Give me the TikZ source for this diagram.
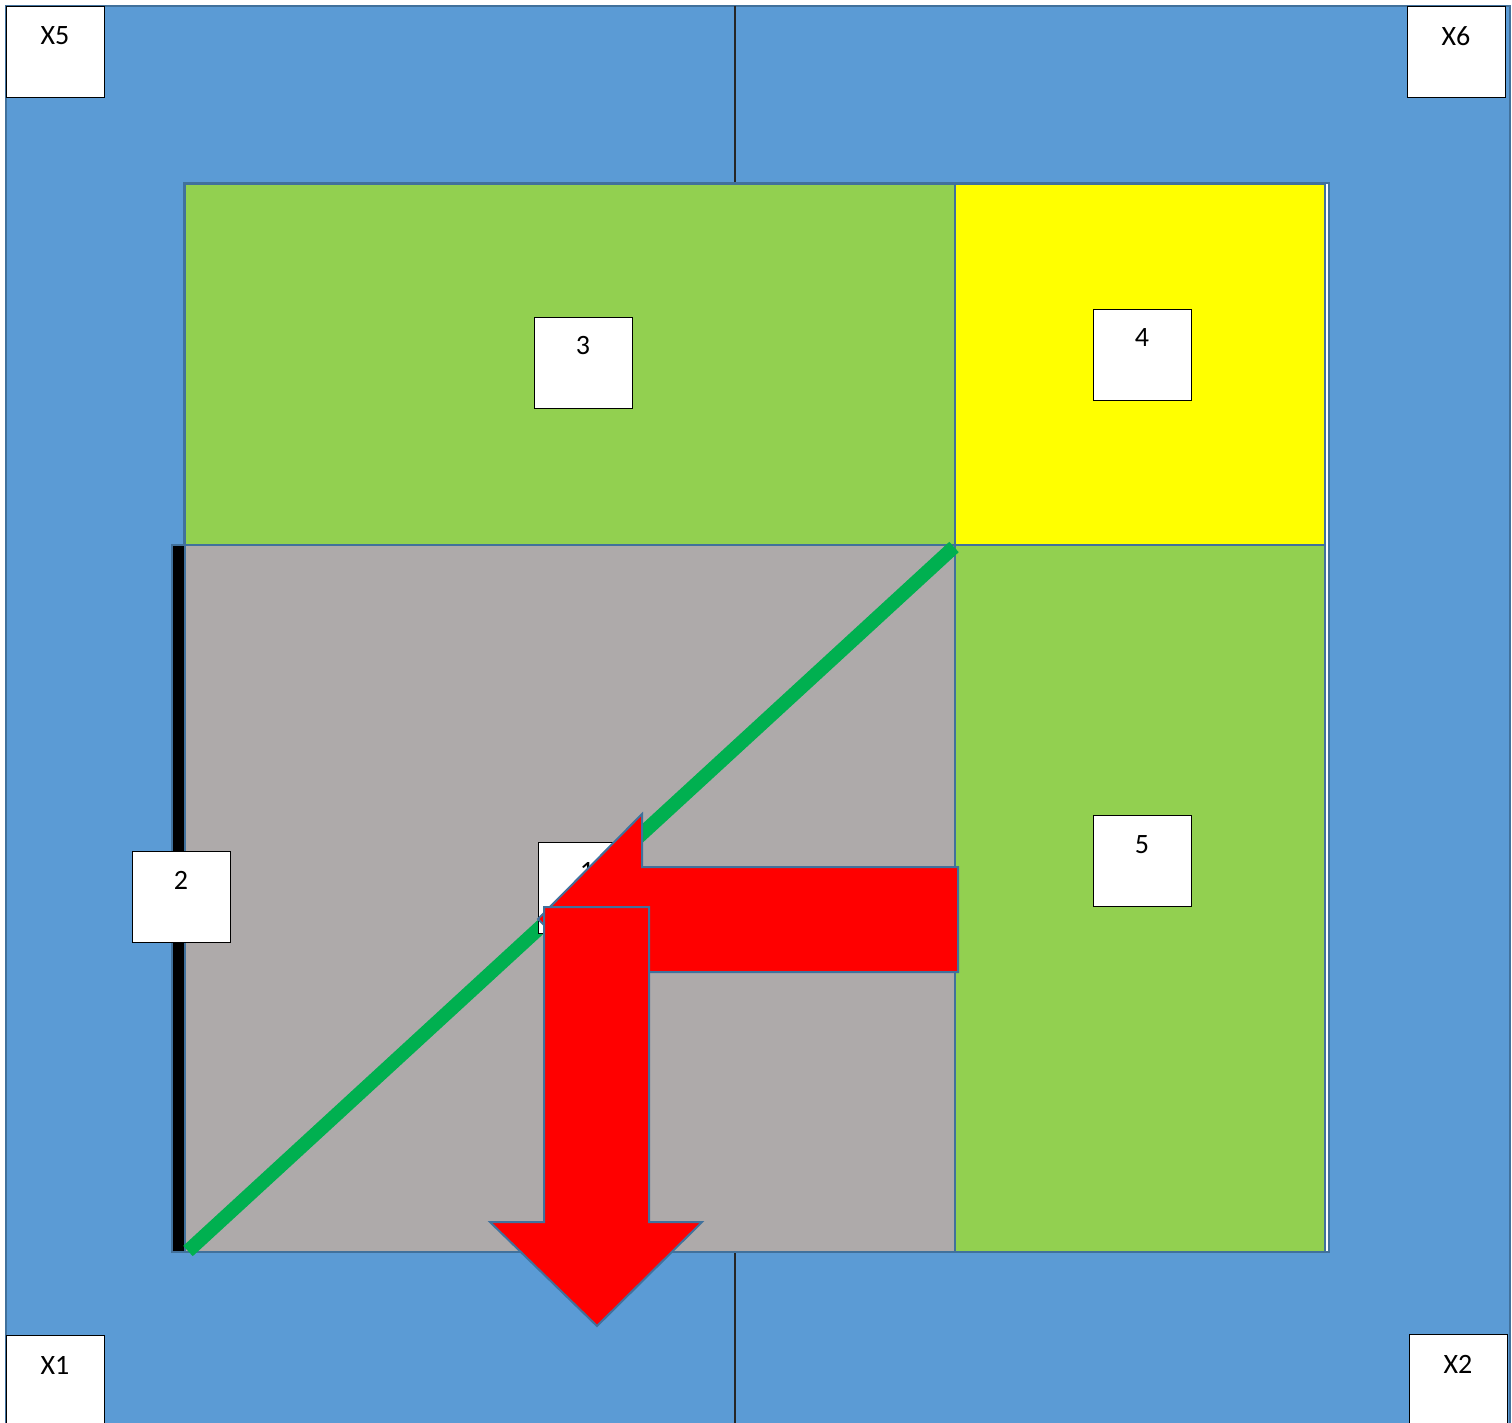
\documentclass[tikz,border=0pt]{standalone}
\usepackage{fontspec}
\setmainfont{Carlito}
\definecolor{bgblue}{HTML}{5B9BD5}
\definecolor{edgeblue}{HTML}{41719C}
\definecolor{lgreen}{HTML}{92D050}
\definecolor{dgreen}{HTML}{00B050}
\definecolor{greyfill}{HTML}{AEAAAA}
\definecolor{yel}{HTML}{FFFF00}
\definecolor{redfill}{HTML}{FF0000}
\begin{document}
\begin{tikzpicture}[x=1pt,y=-1pt,
  region/.style={draw=edgeblue,line width=2pt},
  wbox/.style={draw=black,line width=1pt,fill=white,minimum width=98pt,minimum height=91pt,inner sep=0pt},
  lbl/.style={font=\fontsize{28}{32}\selectfont,inner sep=0pt},
  redarrow/.style={draw=edgeblue,line width=2pt,fill=redfill,line join=miter},
  divider/.style={draw=black!85,line width=1.2pt}]
\useasboundingbox[fill=white] (0,0) rectangle (1512,1423);
% blue background
\fill[bgblue,draw=edgeblue,line width=2pt] (6,6) rectangle (1510,1424);
% dividers
\coordinate (dtop) at (735,6);
\coordinate (dtopend) at (735,183);
\coordinate (dbot) at (735,1253);
\coordinate (dbotend) at (735,1423);
\draw[divider] (dtop) -- (dtopend);
\draw[divider] (dbot) -- (dbotend);
% frame
\draw[region,fill=white] (184,183) rectangle (1329,1252);
% regions
\draw[region,fill=lgreen] (185,184) rectangle (955,545);
\draw[region,fill=yel] (955,184) rectangle (1325,545);
\draw[region,fill=greyfill] (185,545) rectangle (955,1252);
\draw[region,fill=lgreen] (955,545) rectangle (1325,1252);
% black bar
\draw[draw=edgeblue,line width=2pt,fill=black] (172,545) rectangle (185,1252);
% boxes 2 and 1
\node[wbox] (b2) at (181,897) {};
\node[lbl] at ([yshift=-29pt]b2.north) {2};
% green diagonal
\coordinate (ga) at (188,1251);
\coordinate (gb) at (954,547);
\draw[dgreen,line width=14pt] (ga) -- (gb);
\node[wbox] (b1) at (587,888) {};
\node[lbl] at ([yshift=-29pt]b1.north) {1};
% left arrow
\draw[redarrow] (958,867) -- (642,867) -- (642,814) -- (538,919) -- (642,1024) -- (642,972) -- (958,972) -- cycle;
% down arrow
\draw[redarrow] (544,907) -- (649,907) -- (649,1222) -- (702,1222) -- (597,1326) -- (490,1222) -- (544,1222) -- cycle;
% other boxes
\node[wbox] (x5) at (55,52) {};
\node[lbl] at ([yshift=-30pt]x5.north) {X5};
\node[wbox] (x6) at (1456,52) {};
\node[lbl] at ([yshift=-30pt]x6.north) {X6};
\node[wbox] (x1) at (55,1381) {};
\node[lbl] at ([yshift=-30pt]x1.north) {X1};
\node[wbox] (x2) at (1458,1380) {};
\node[lbl] at ([yshift=-30pt]x2.north) {X2};
\node[wbox] (b3) at (583,363) {};
\node[lbl] at ([yshift=-29pt]b3.north) {3};
\node[wbox] (b4) at (1142,355) {};
\node[lbl] at ([yshift=-29pt]b4.north) {4};
\node[wbox] (b5) at (1142,861) {};
\node[lbl] at ([yshift=-30pt]b5.north) {5};
\end{tikzpicture}
\end{document}
